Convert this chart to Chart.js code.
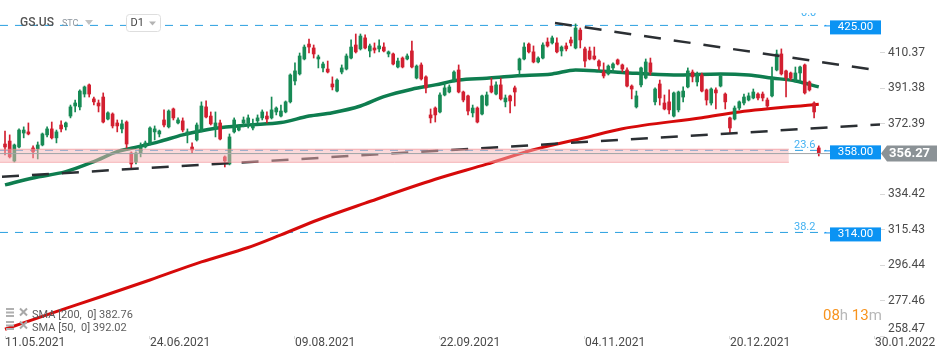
<!DOCTYPE html>
<html>
<head>
<meta charset="utf-8">
<title>GS.US D1</title>
<script src="https://cdn.jsdelivr.net/npm/chart.js@4.4.1/dist/chart.umd.min.js"></script>
<style>
    html, body { margin: 0; padding: 0; background: #ffffff; }
    #gsChart { display: block; }
</style>
</head>
<body>
<canvas id="gsChart" width="950" height="361" style="width:950px;height:361px"></canvas>
<script>
// daily candles, 11.05.2021 -> 24.01.2022
const candleOpen = [
    361.4, 363.0, 352.3, 359.8, 367.3, 367.9, 359.3, 358.8, 360.9, 366.3,
    369.5, 364.7, 371.6, 370.6, 376.4, 381.8, 381.3, 388.2, 393.1, 385.6,
    383.4, 386.6, 374.8, 377.5, 372.7, 369.5, 373.2, 356.6, 351.8, 356.6,
    359.8, 362.0, 367.9, 366.8, 374.3, 370.6, 380.2, 372.7, 373.8, 366.3,
    359.8, 363.6, 368.9, 381.3, 376.4, 370.0, 372.7, 354.5, 350.7, 367.9,
    368.9, 372.7, 372.7, 370.0, 373.8, 375.4, 376.4, 375.4, 378.6, 376.4,
    378.6, 384.0, 395.2, 399.0, 407.0, 415.0, 412.9, 407.0, 402.2, 401.6,
    393.6, 389.8, 400.0, 401.6, 407.5, 414.5, 412.4, 418.3, 411.3, 412.9,
    412.4, 413.4, 409.7, 409.7, 402.7, 407.5, 407.0, 411.3, 396.8, 403.8,
    397.4, 377.0, 380.7, 378.6, 387.7, 389.3, 395.2, 401.1, 389.3, 387.2,
    378.1, 380.7, 377.5, 382.3, 392.5, 388.2, 393.1, 384.0, 387.2, 391.5,
    401.1, 407.0, 415.0, 410.8, 405.4, 407.5, 416.1, 415.6, 415.6, 411.3,
    414.0, 417.2, 412.9, 422.5, 412.4, 411.3, 408.6, 405.9, 400.0, 399.0,
    402.2, 406.5, 403.8, 401.1, 392.5, 381.3, 393.1, 396.8, 404.9, 384.0,
    393.6, 383.4, 384.0, 376.4, 379.7, 386.6, 392.0, 400.0, 394.7, 398.4,
    390.4, 383.4, 390.4, 392.5, 388.2, 375.4, 374.8, 380.7, 383.4, 385.0,
    386.1, 388.2, 388.2, 385.0, 387.2, 401.1, 409.7, 400.6, 399.5, 395.7,
    399.5, 403.8, 394.7, 383.4, 359.3
];
const candleHigh = [
    368.4, 366.3, 361.4, 369.5, 370.6, 372.7, 360.4, 362.5, 367.3, 370.6,
    373.2, 368.9, 373.8, 373.2, 382.3, 385.0, 390.4, 392.5, 393.6, 386.6,
    385.0, 388.8, 378.6, 378.1, 374.3, 374.3, 373.8, 357.2, 357.2, 362.0,
    363.0, 370.6, 371.1, 368.9, 379.7, 379.7, 380.7, 375.4, 375.4, 369.5,
    362.0, 372.7, 384.0, 384.5, 378.6, 378.6, 374.3, 355.0, 366.8, 375.4,
    371.6, 375.9, 377.0, 374.8, 377.0, 379.7, 378.6, 386.6, 381.3, 382.3,
    384.5, 399.0, 404.9, 410.2, 414.5, 417.7, 414.5, 409.1, 405.4, 405.9,
    397.4, 396.3, 403.8, 409.7, 417.2, 420.4, 420.4, 419.9, 415.0, 415.6,
    417.2, 415.6, 411.3, 410.2, 407.5, 408.1, 409.7, 416.6, 403.8, 404.9,
    397.9, 380.2, 381.3, 388.8, 394.1, 393.1, 400.6, 403.8, 389.8, 387.7,
    382.3, 381.3, 387.7, 389.3, 396.8, 394.7, 396.8, 387.7, 387.7, 392.5,
    407.5, 415.6, 415.6, 414.0, 408.1, 415.6, 418.3, 419.3, 418.3, 414.0,
    415.6, 418.8, 425.8, 423.6, 413.4, 413.4, 413.4, 406.5, 404.9, 403.8,
    404.9, 407.0, 404.3, 402.2, 393.1, 389.8, 402.7, 407.0, 407.5, 391.5,
    395.7, 387.7, 390.4, 389.3, 389.8, 392.0, 402.2, 401.1, 400.0, 399.5,
    390.9, 391.5, 391.5, 399.0, 388.8, 375.9, 381.8, 384.5, 388.2, 388.8,
    390.9, 388.8, 389.3, 386.1, 402.7, 411.8, 412.4, 401.1, 400.0, 402.7,
    403.2, 404.3, 395.2, 384.0, 360.4
];
const candleLow = [
    355.5, 353.9, 351.8, 359.3, 364.7, 366.3, 353.9, 353.4, 360.4, 365.2,
    364.1, 362.0, 367.9, 368.9, 375.4, 378.6, 379.7, 386.6, 386.6, 382.3,
    378.6, 372.7, 374.3, 370.0, 367.9, 367.3, 359.3, 348.6, 350.7, 354.5,
    359.3, 360.9, 363.6, 365.2, 370.6, 370.0, 374.3, 372.2, 367.9, 362.0,
    356.6, 363.0, 367.9, 375.4, 371.6, 365.2, 363.6, 349.1, 350.2, 367.3,
    368.4, 370.6, 370.0, 368.9, 372.7, 374.3, 372.7, 374.8, 377.0, 375.9,
    378.1, 383.4, 393.1, 398.4, 406.5, 410.2, 407.5, 402.2, 400.0, 399.5,
    390.4, 389.3, 399.0, 401.1, 407.0, 410.2, 411.8, 412.4, 408.1, 410.2,
    410.8, 410.8, 408.1, 403.8, 402.2, 402.2, 406.5, 402.2, 396.3, 395.7,
    388.8, 372.7, 373.2, 378.1, 387.2, 388.8, 394.7, 388.8, 384.0, 377.0,
    375.9, 372.7, 377.0, 381.8, 388.8, 387.7, 385.0, 381.3, 378.1, 381.8,
    398.4, 406.5, 410.2, 404.9, 404.9, 407.0, 413.4, 415.0, 410.2, 408.6,
    411.3, 414.0, 412.4, 412.9, 402.7, 406.5, 406.5, 401.1, 396.8, 398.4,
    400.0, 403.8, 400.0, 392.0, 385.6, 380.7, 392.0, 396.3, 398.4, 382.3,
    382.3, 379.7, 377.5, 375.9, 378.6, 384.0, 391.5, 394.7, 392.5, 389.3,
    382.3, 382.3, 380.2, 392.0, 380.2, 367.3, 374.3, 379.7, 382.3, 384.5,
    385.6, 385.0, 384.5, 380.7, 386.6, 400.6, 398.4, 386.6, 395.7, 394.7,
    394.7, 388.2, 389.8, 375.4, 355.0
];
const candleClose = [
    359.8, 354.5, 360.9, 368.9, 368.9, 366.8, 357.2, 360.9, 366.8, 369.5,
    364.7, 367.9, 369.5, 372.7, 381.3, 383.4, 389.8, 392.0, 388.2, 384.0,
    381.8, 373.2, 378.1, 371.1, 371.1, 372.2, 361.4, 350.7, 356.6, 359.8,
    362.0, 370.0, 369.5, 368.4, 371.6, 379.1, 375.4, 374.3, 368.9, 367.9,
    358.2, 371.6, 381.8, 375.9, 372.2, 372.7, 364.1, 352.3, 365.2, 374.3,
    370.6, 374.3, 375.4, 372.2, 375.4, 378.6, 374.8, 379.7, 380.7, 379.1,
    384.0, 398.4, 400.6, 408.6, 413.4, 413.4, 409.7, 408.1, 404.3, 400.0,
    392.0, 395.7, 402.2, 408.6, 413.4, 410.8, 419.3, 412.9, 414.0, 411.8,
    414.0, 411.3, 410.8, 404.3, 405.9, 402.7, 408.6, 402.7, 403.2, 396.3,
    391.5, 375.4, 377.0, 387.7, 391.5, 392.0, 400.0, 389.3, 385.0, 379.1,
    380.7, 373.2, 387.2, 387.7, 389.3, 393.1, 385.6, 386.1, 384.5, 389.3,
    407.0, 413.4, 410.8, 405.4, 407.5, 414.5, 414.0, 418.3, 410.8, 413.4,
    412.4, 415.6, 423.6, 417.2, 405.9, 407.0, 407.0, 403.2, 397.9, 403.2,
    404.3, 404.3, 401.6, 392.5, 390.9, 387.2, 402.2, 405.4, 400.0, 390.9,
    386.1, 380.2, 379.7, 388.8, 389.3, 389.8, 400.6, 397.4, 399.0, 389.8,
    385.0, 390.9, 388.8, 397.9, 384.0, 370.0, 380.7, 384.0, 386.6, 387.2,
    389.3, 386.1, 386.1, 381.8, 396.3, 409.7, 399.0, 396.8, 396.8, 399.5,
    402.7, 388.8, 390.4, 378.6, 356.27
];

// moving averages (bar index -> value)
const sma200Idx = [0, 10, 20, 31, 42, 52, 59, 67, 77, 92, 103, 113, 124, 132, 149, 157, 174];
const sma200Val = [262.1, 270.7, 279.1, 288.5, 298.2, 305.9, 312.7, 320.8, 329.7, 342.5, 350.6, 358.3, 364.8, 369.6, 375.5, 378.6, 382.76];
const sma50Idx = [0, 6, 13, 19, 24, 27, 33, 38, 45, 52, 59, 65, 70, 76, 81, 87, 92, 97, 103, 109, 117, 122, 127, 132, 143, 153, 159, 164, 169, 174];
const sma50Val = [339.5, 343.2, 346.6, 352.0, 357.3, 359.1, 362.7, 366.3, 369.9, 371.6, 372.9, 376.4, 378.2, 381.8, 386.8, 390.8, 393.1, 395.7, 396.7, 397.9, 399.0, 401.1, 400.6, 399.8, 398.4, 399.0, 398.4, 396.8, 395.2, 392.02];

// drawn trend lines and zones
const resistanceIdx = [117.6, 184.7];
const resistanceVal = [426.3, 401.6];
const supportIdx = [-1.07, 187.09];
const supportVal = [343.8, 371.9];
const zoneIdx = [-1.07, 167.6];
const zoneTop = [358.6, 358.6];
const zoneBottom = [351.6, 351.6];

const fibLevels = [425.00, 358.00, 314.00];
const fibNames = ['0.0', '23.6', '38.2'];
const fibEndIdx = 175.6;
const lastPrice = 356.27;
const smaLegend = ['SMA [200,  0] 382.76', 'SMA [50,  0] 392.02'];

// axes
const xTickIdx = [0, 31, 62, 93, 124, 155, 186];
const xTickLabels = ['11.05.2021', '24.06.2021', '09.08.2021', '22.09.2021', '04.11.2021', '20.12.2021', '30.01.2022'];
const yTickValues = [258.47, 277.46, 296.44, 315.43, 334.42, 372.39, 391.38, 410.37];

document.addEventListener('DOMContentLoaded', function() {
    const ctx = document.getElementById('gsChart').getContext('2d');

    Chart.defaults.font.family = 'Roboto';

    const green = '#178a55';
    const red = '#d21f30';
    const fibBlue = '#2a9fe0';

    const candleColors = candleOpen.map((o, i) => candleClose[i] >= o ? green : red);

    function pairs(xs, ys) {
        return xs.map((x, i) => ({ x: x, y: ys[i] }));
    }

    function lineSet(data, color, width, extra) {
        return Object.assign({
            type: 'line',
            data: data,
            borderColor: color,
            borderWidth: width,
            pointRadius: 0,
            fill: false,
            tension: 0
        }, extra || {});
    }

    const datasets = [];

    fibLevels.forEach(level => {
        datasets.push(lineSet(pairs([supportIdx[0], fibEndIdx], [level, level]), fibBlue, 1,
            { borderDash: [8, 7], order: 9 }));
    });

    datasets.push(lineSet(pairs(sma200Idx, sma200Val), '#d60a0a', 3,
        { tension: 0.3, cubicInterpolationMode: 'monotone', order: 7 }));
    datasets.push(lineSet(pairs(sma50Idx, sma50Val), '#0e7d4f', 3.5,
        { tension: 0.3, cubicInterpolationMode: 'monotone', order: 7 }));

    datasets.push({
        type: 'bar',
        data: candleOpen.map((o, i) => ({ x: i, y: [candleLow[i], candleHigh[i]] })),
        backgroundColor: candleColors,
        barThickness: 1,
        grouped: false,
        order: 6
    });
    datasets.push({
        type: 'bar',
        data: candleOpen.map((o, i) => ({ x: i, y: [o, candleClose[i]] })),
        backgroundColor: candleColors,
        barThickness: 3,
        grouped: false,
        order: 5
    });

    datasets.push(lineSet(pairs(resistanceIdx, resistanceVal), '#2b2f33', 2.5,
        { borderDash: [17, 13], order: 4 }));
    datasets.push(lineSet(pairs(supportIdx, supportVal), '#2b2f33', 2.5,
        { borderDash: [17, 13], borderDashOffset: -2, order: 4 }));

    // pink zone, drawn over everything below it
    datasets.push(lineSet(pairs(zoneIdx, zoneTop), 'rgba(240, 130, 135, 0.6)', 1,
        { fill: '+1', backgroundColor: 'rgba(248, 180, 182, 0.5)', order: 2 }));
    datasets.push(lineSet(pairs(zoneIdx, zoneBottom), 'rgba(240, 130, 135, 0.6)', 1,
        { order: 2 }));

    datasets.push(lineSet(pairs([supportIdx[0], supportIdx[1]], [lastPrice, lastPrice]), '#a0a5a8', 1,
        { order: 1 }));

    function tri(c, x, y, w, h, color) {
        c.fillStyle = color;
        c.beginPath();
        c.moveTo(x, y);
        c.lineTo(x + w, y);
        c.lineTo(x + w / 2, y + h);
        c.closePath();
        c.fill();
    }

    const overlayPlugin = {
        id: 'overlay',
        afterDraw(chart) {
            const c = chart.ctx;
            const ys = chart.scales.y;
            c.save();
            c.textAlign = 'left';
            c.textBaseline = 'middle';

            // header
            c.font = '500 12px Roboto';
            c.fillStyle = '#555555';
            c.fillText('GS.US', 20, 23);
            c.font = '9px Roboto';
            c.fillStyle = '#8d959d';
            c.fillText('STC', 62, 24);
            tri(c, 85, 20, 8, 5, '#c2c2c2');
            c.beginPath();
            c.roundRect(126.5, 14.5, 34, 17, 3);
            c.fillStyle = '#ffffff';
            c.fill();
            c.strokeStyle = '#dedede';
            c.lineWidth = 1;
            c.stroke();
            c.font = '11px Roboto';
            c.fillStyle = '#444444';
            c.fillText('D1', 130.5, 23.5);
            tri(c, 149, 21.5, 7, 4, '#b4b4b4');

            // fib level names and price boxes
            fibLevels.forEach((level, k) => {
                const py = ys.getPixelForValue(level);
                c.font = '11px Roboto';
                c.fillStyle = '#45b2f2';
                if (k === 0) {
                    c.save();
                    c.beginPath();
                    c.rect(780, 13, 60, 20);
                    c.clip();
                    c.fillText(fibNames[k], 801, py - 12);
                    c.restore();
                } else {
                    c.fillText(fibNames[k], 794, py - 5);
                }
                c.fillStyle = '#0b93f3';
                c.fillRect(830, py - 5, 51, 14);
                c.strokeStyle = '#0b93f3';
                c.beginPath();
                c.moveTo(824, py + 0.5);
                c.lineTo(830, py + 0.5);
                c.stroke();
                c.fillStyle = '#ffffff';
                c.font = '11.5px Roboto';
                c.textAlign = 'center';
                c.fillText(level.toFixed(2), 855.5, py + 2);
                c.textAlign = 'left';
            });

            // last price tag
            const lp = ys.getPixelForValue(lastPrice);
            c.fillStyle = '#8b9296';
            c.beginPath();
            c.moveTo(881, lp);
            c.lineTo(887, lp - 8);
            c.lineTo(937, lp - 8);
            c.lineTo(937, lp + 8);
            c.lineTo(887, lp + 8);
            c.closePath();
            c.fill();
            c.fillStyle = '#ffffff';
            c.font = 'bold 13px Roboto';
            c.fillText(lastPrice.toFixed(2), 889, lp + 0.5);

            // indicator legend
            smaLegend.forEach((txt, k) => {
                const ly = 312 + k * 13;
                c.fillStyle = '#b0b0b0';
                c.fillRect(6, ly - 4, 8, 2);
                c.fillRect(6, ly - 0.5, 8, 2);
                c.fillRect(6, ly + 3, 8, 2);
                c.strokeStyle = '#a8a8a8';
                c.lineWidth = 2;
                c.beginPath();
                c.moveTo(20, ly - 3.5);
                c.lineTo(27, ly + 3.5);
                c.moveTo(27, ly - 3.5);
                c.lineTo(20, ly + 3.5);
                c.stroke();
                c.fillStyle = '#5c5c5c';
                c.font = '11px Roboto';
                c.fillText(txt, 32, ly + 3);
            });

            // candle countdown
            const parts = [['08', '#f7931e'], ['h ', '#b8b8b8'], ['13', '#f7931e'], ['m', '#b8b8b8']];
            let tx = 823;
            c.font = '15px Roboto';
            parts.forEach(p => {
                c.fillStyle = p[1];
                c.fillText(p[0], tx, 316.5);
                tx += c.measureText(p[0]).width;
            });

            c.restore();
        }
    };

    new Chart(ctx, {
        type: 'bar',
        data: { datasets: datasets },
        options: {
            responsive: false,
            animation: false,
            events: [],
            layout: { padding: 0 },
            plugins: {
                legend: { display: false },
                tooltip: { enabled: false }
            },
            scales: {
                x: {
                    type: 'linear',
                    min: -1.07,
                    max: 187.09,
                    offset: false,
                    grid: { drawOnChartArea: false, tickLength: 3, color: '#d8d8d8', offset: false },
                    border: { display: false },
                    ticks: {
                        align: 'start',
                        autoSkip: false,
                        maxRotation: 0,
                        padding: -3,
                        color: '#4a4a4a',
                        font: { size: 12 },
                        callback: function(value) {
                            const k = xTickIdx.indexOf(value);
                            return k >= 0 ? xTickLabels[k] : '';
                        }
                    },
                    afterBuildTicks: function(scale) {
                        scale.ticks = xTickIdx.map(v => ({ value: v }));
                    },
                    afterFit: function(scale) {
                        scale.height = 25;
                        scale.paddingLeft = 0;
                        scale.paddingRight = 0;
                    }
                },
                y: {
                    position: 'right',
                    min: 258.47,
                    max: 438.62,
                    beginAtZero: false,
                    grid: { drawOnChartArea: false, tickLength: 5, color: '#d8d8d8' },
                    border: { display: false },
                    ticks: {
                        padding: 3,
                        color: '#4a4a4a',
                        font: { size: 12 },
                        callback: function(value) {
                            const txt = Number(value).toFixed(2);
                            // lowest label sits a little above the axis edge
                            return value === yTickValues[0] ? [txt, ''] : txt;
                        }
                    },
                    afterBuildTicks: function(scale) {
                        scale.ticks = yTickValues.map(v => ({ value: v }));
                    },
                    afterFit: function(scale) {
                        scale.width = 70;
                        scale.paddingTop = 0;
                        scale.paddingBottom = 0;
                    }
                }
            }
        },
        plugins: [overlayPlugin]
    });
});
</script>
</body>
</html>
